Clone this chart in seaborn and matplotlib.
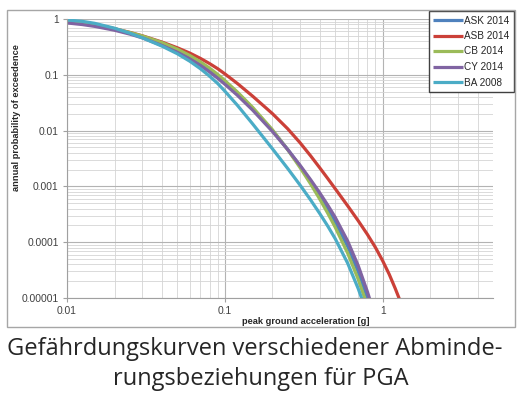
import pandas as pd
import matplotlib
matplotlib.use("Agg")
import matplotlib.pyplot as plt
from matplotlib.patches import Rectangle
from matplotlib.ticker import LogLocator, FixedLocator, FixedFormatter, NullFormatter
import seaborn as sns

# peak ground acceleration [g]
pga = [0.01, 0.0125, 0.015, 0.02, 0.025, 0.03, 0.04, 0.05, 0.06, 0.07, 0.08, 0.09,
       0.1, 0.12, 0.15, 0.2, 0.25, 0.3, 0.35, 0.4, 0.45, 0.5, 0.6, 0.7, 0.8, 0.9,
       1.0, 1.1, 1.2, 1.3]

# annual probability of exceedence (None = below the chart)
ask_2014 = [0.89, 0.832, 0.771, 0.652, 0.555, 0.478, 0.357, 0.274, 0.210, 0.161, 0.124, 0.0959,
            0.0745, 0.0468, 0.0251, 0.0101, 0.00462, 0.00231, 0.00123, 0.000684, 0.000394, 0.000232,
            0.0000837, 0.0000293, 0.0000101, 0.0000035, None, None, None, None]
asb_2014 = [0.93, 0.87, 0.80, 0.67, 0.576, 0.50, 0.386, 0.305, 0.245, 0.197, 0.159, 0.129,
            0.104, 0.070, 0.0414, 0.0202, 0.0108, 0.00603, 0.00351, 0.00214, 0.00137, 0.000911,
            0.000449, 0.000242, 0.000138, 0.0000804, 0.0000464, 0.0000266, 0.0000149, 0.0000084]
cb_2014 = [0.93, 0.87, 0.80, 0.67, 0.573, 0.497, 0.378, 0.289, 0.222, 0.171, 0.132, 0.102,
           0.079, 0.0493, 0.0261, 0.0104, 0.00455, 0.00216, 0.0011, 0.000587, 0.000326, 0.000186,
           0.0000636, 0.0000216, 0.00000722, None, None, None, None, None]
cy_2014 = [0.85, 0.795, 0.737, 0.629, 0.536, 0.459, 0.335, 0.253, 0.1925, 0.147, 0.1125, 0.0869,
           0.0678, 0.043, 0.0233, 0.00967, 0.00458, 0.00238, 0.00131, 0.00076, 0.000456, 0.00028,
           0.000105, 0.0000379, 0.000013, 0.0000045, None, None, None, None]
ba_2008 = [0.96, 0.908, 0.836, 0.684, 0.557, 0.46, 0.326, 0.2385, 0.175, 0.1286, 0.0946, 0.0701,
           0.051, 0.0285, 0.0132, 0.00474, 0.0021, 0.00105, 0.000568, 0.000324, 0.000192, 0.000116,
           0.000042, 0.0000147, 0.0000051, None, None, None, None, None]

models = ['ASK 2014', 'ASB 2014', 'CB 2014', 'CY 2014', 'BA 2008']
curves = [ask_2014, asb_2014, cb_2014, cy_2014, ba_2008]
colors = ['#4F81BD', '#CB4038', '#9BBB59', '#8064A2', '#4BACC6']

xticks = [0.01, 0.1, 1]
xtick_labels = ['0.01', '0.1', '1']
yticks = [1, 0.1, 0.01, 0.001, 0.0001, 0.00001]
ytick_labels = ['1', '0.1', '0.01', '0.001', '0.0001', '0.00001']

rows = []
for name, vals in zip(models, curves):
    for x, y in zip(pga, vals):
        if y is not None:
            rows.append({'pga': x, 'prob': y, 'model': name})
df = pd.DataFrame(rows)

sns.set_theme(style="white")
plt.rcParams['font.family'] = ['Liberation Sans', 'DejaVu Sans']

fig = plt.figure(figsize=(5.22, 4.03), dpi=100)
ax = fig.add_axes([67 / 522, 1 - 298 / 403, 426 / 522, 279 / 403])

# outer chart frame
fig.patches.append(Rectangle((7 / 522, 1 - 327 / 403), 508 / 522, 317 / 403,
                             transform=fig.transFigure, fill=False,
                             edgecolor='#a6a6a6', linewidth=1.0, zorder=0))

ax.set_xscale('log')
ax.set_yscale('log')
ax.set_xlim(0.01, 5)
ax.set_ylim(0.00001, 1)

ax.xaxis.set_major_locator(FixedLocator(xticks))
ax.xaxis.set_major_formatter(FixedFormatter(xtick_labels))
ax.yaxis.set_major_locator(FixedLocator(yticks))
ax.yaxis.set_major_formatter(FixedFormatter(ytick_labels))
ax.xaxis.set_minor_locator(LogLocator(base=10, subs=range(2, 10), numticks=20))
ax.yaxis.set_minor_locator(LogLocator(base=10, subs=range(2, 10), numticks=20))
ax.xaxis.set_minor_formatter(NullFormatter())
ax.yaxis.set_minor_formatter(NullFormatter())

ax.grid(which='major', color='#b3b3b3', linewidth=0.8)
ax.grid(which='minor', color='#d4d4d4', linewidth=0.6)
ax.set_axisbelow(True)

sns.lineplot(data=df, x='pga', y='prob', hue='model', hue_order=models,
             palette=dict(zip(models, colors)), linewidth=2.3, estimator=None,
             sort=True, ax=ax, solid_joinstyle='round', solid_capstyle='butt')

for s in ['top', 'right']:
    ax.spines[s].set_visible(False)
for s in ['left', 'bottom']:
    ax.spines[s].set_color('#a0a0a0')
    ax.spines[s].set_linewidth(0.8)

ax.tick_params(which='major', direction='out', length=3, width=0.8, color='#a0a0a0',
               labelsize=7.4, labelcolor='#404040', pad=3, left=True, bottom=True)
ax.tick_params(which='minor', length=0)

ax.set_xlabel('peak ground acceleration [g]', fontsize=6.7, fontweight='bold', color='#262626')
ax.set_ylabel('annual probability of exceedence', fontsize=6.7, fontweight='bold', color='#262626')
ax.xaxis.set_label_coords(0.561, -0.068)
ax.yaxis.set_label_coords(-0.108, 0.647)

handles, labels = ax.get_legend_handles_labels()
leg = ax.legend(handles, labels, loc='upper right',
                bbox_to_anchor=(514 / 522, 1 - 11 / 403), bbox_transform=fig.transFigure,
                fontsize=7.2, frameon=True, fancybox=False, edgecolor='#404040',
                framealpha=1, handlelength=3.0, handletextpad=0.1, labelspacing=0.55,
                borderpad=0.45, borderaxespad=0)
leg.get_frame().set_linewidth(1.0)
for t in leg.get_texts():
    t.set_color('#262626')

fig.text(0.487, 1 - 355 / 403, 'Gefährdungskurven verschiedener Abminde-',
         ha='center', va='baseline', fontsize=17, family=['Open Sans', 'DejaVu Sans'])
fig.text(0.5, 1 - 385 / 403, 'rungsbeziehungen für PGA',
         ha='center', va='baseline', fontsize=17, family=['Open Sans', 'DejaVu Sans'])

fig.savefig('out.png', dpi=100)
